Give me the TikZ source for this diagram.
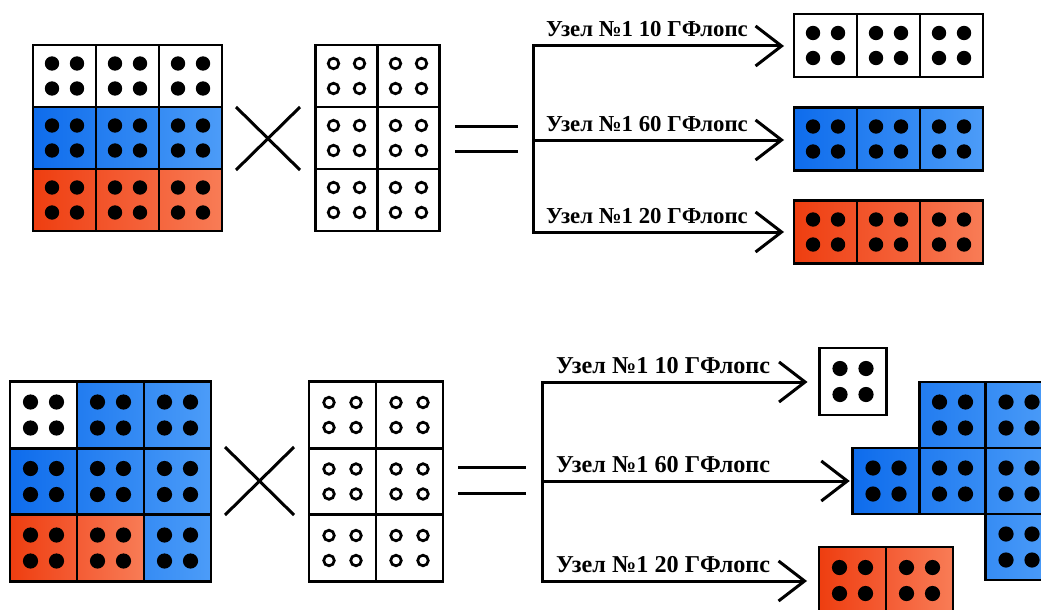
\documentclass[tikz,border=0pt]{standalone}
\usepackage{fontspec}
\setmainfont{Liberation Serif}
\usetikzlibrary{arrows.meta}
\definecolor{b0}{RGB}{14,108,236}
\definecolor{b1}{RGB}{34,124,240}
\definecolor{b2}{RGB}{54,140,244}
\definecolor{b3}{RGB}{76,156,248}
\definecolor{r0}{RGB}{238,62,16}
\definecolor{r1}{RGB}{242,82,40}
\definecolor{r15}{RGB}{244,92,52}
\definecolor{r2}{RGB}{245,102,62}
\definecolor{r3}{RGB}{248,124,86}
\tikzset{
  cellbox/.style={draw=black, line width=2.9pt, inner sep=0pt, outer sep=0pt},
  wht/.style={fill=white},
  bc1/.style={left color=b0, right color=b1},
  bc2/.style={left color=b1, right color=b2},
  bc3/.style={left color=b2, right color=b3},
  rc1/.style={left color=r0, right color=r1},
  rc2/.style={left color=r1, right color=r2},
  rc3/.style={left color=r2, right color=r3},
  rd1/.style={left color=r0, right color=r15},
  rd2/.style={left color=r15, right color=r3},
  lnk/.style={line width=3pt},
  arr/.style={line width=3pt, -{Straight Barb[length=26pt,width=40pt,line width=3pt]}},
  lbl/.style={font=\bfseries\fontsize{22.8}{26}\selectfont, inner sep=0pt, anchor=base west},
  lblb/.style={font=\bfseries\fontsize{24.2}{28}\selectfont, inner sep=0pt, anchor=base west},
}
% name, x, y, w, h, style
\newcommand\mycell[6]{\node[cellbox, minimum width=#4pt, minimum height=#5pt, #6] (#1) at (#2,#3) {};}
% filled dots: name, offset, radius
\newcommand\fdots[3]{\foreach \sx/\sy in {-1/1,1/1,-1/-1,1/-1}{\fill[black] (#1.center) ++(\sx*#2pt,\sy*#2pt) circle (#3pt);}}
% open dots: name, xoffset, yoffset
\newcommand\odots[3]{\foreach \sx/\sy in {-1/1,1/1,-1/-1,1/-1}{\draw[black, line width=2.7pt] (#1.center) ++(\sx*#2pt,\sy*#3pt) circle (5.3pt);}}
\begin{document}
\begin{tikzpicture}[x=1pt,y=-1pt]
\useasboundingbox (0,0) rectangle (1041,610);
\clip (0,0) rectangle (1041,610);
% ===== TOP =====
% left matrix A
\foreach \c/\cx/\bs/\rs in {1/64.5/bc1/rc1, 2/127.5/bc2/rc2, 3/190.5/bc3/rc3}{
  \mycell{ta1\c}{\cx}{76}{63}{62}{wht}
  \mycell{ta2\c}{\cx}{138}{63}{62}{\bs}
  \mycell{ta3\c}{\cx}{200}{63}{62}{\rs}
  \fdots{ta1\c}{12.5}{7.2}
  \fdots{ta2\c}{12.5}{7.2}
  \fdots{ta3\c}{12.5}{7.2}
}
% times sign
\draw[lnk] (236,107) -- (300,170);
\draw[lnk] (236,170) -- (300,107);
% matrix B
\foreach \c/\cx in {1/346.5, 2/408.5}{
  \foreach \r/\ry in {1/76, 2/138, 3/200}{
    \mycell{tb\r\c}{\cx}{\ry}{62}{62}{wht}
    \odots{tb\r\c}{13}{12.5}
  }
}
% equals
\draw[lnk] (455,126) -- (518,126);
\draw[lnk] (455,151) -- (518,151);
% result boxes
\foreach \c/\cx/\bs/\rs in {1/825.5/bc1/rc1, 2/888.5/bc2/rc2, 3/951.5/bc3/rc3}{
  \mycell{tr1\c}{\cx}{45.5}{63}{63}{wht}
  \mycell{tr2\c}{\cx}{139}{63}{63}{\bs}
  \mycell{tr3\c}{\cx}{232}{63}{63}{\rs}
  \fdots{tr1\c}{12.5}{7.2}
  \fdots{tr2\c}{12.5}{7.2}
  \fdots{tr3\c}{12.5}{7.2}
}
% tree
\coordinate (tj1) at (533,46);
\coordinate (tj2) at (533,140);
\coordinate (tj3) at (533,232);
\draw[lnk, line cap=rect] (tj1) -- (tj3);
\draw[arr, shorten >=10pt] (tj1) -- (tj1 -| tr11.west);
\draw[arr, shorten >=10pt] (tj2) -- (tj2 -| tr21.west);
\draw[arr, shorten >=10pt] (tj3) -- (tj3 -| tr31.west);
\node[lbl] (tl1) at (546,37) {Узел №1 10 ГФлопс};
\node[lbl] (tl2) at (546,131) {Узел №1 60 ГФлопс};
\node[lbl] (tl3) at (546,223) {Узел №1 20 ГФлопс};
% ===== BOTTOM =====
\mycell{ba11}{43.5}{415}{67}{66.5}{wht}
\mycell{ba12}{110.5}{415}{67}{66.5}{bc2}
\mycell{ba13}{177.5}{415}{67}{66.5}{bc3}
\mycell{ba21}{43.5}{481.5}{67}{66.5}{bc1}
\mycell{ba22}{110.5}{481.5}{67}{66.5}{bc2}
\mycell{ba23}{177.5}{481.5}{67}{66.5}{bc3}
\mycell{ba31}{43.5}{548}{67}{66.5}{rd1}
\mycell{ba32}{110.5}{548}{67}{66.5}{rd2}
\mycell{ba33}{177.5}{548}{67}{66.5}{bc3}
\foreach \n in {ba11,ba12,ba13,ba21,ba22,ba23,ba31,ba32,ba33}{\fdots{\n}{13}{7.6}}
% times sign
\draw[lnk] (225,447) -- (294,515);
\draw[lnk] (225,515) -- (294,447);
% matrix B
\foreach \c/\cx in {1/342.5, 2/409.5}{
  \foreach \r/\ry in {1/415, 2/481.5, 3/548}{
    \mycell{bb\r\c}{\cx}{\ry}{67}{66.5}{wht}
    \odots{bb\r\c}{13.5}{12.5}
  }
}
% equals
\draw[lnk] (458,467) -- (526,467);
\draw[lnk] (458,493) -- (526,493);
% results
\mycell{bw}{853}{381.5}{67}{67}{wht}
\mycell{bl12}{952.5}{415}{66.5}{66}{bc2}
\mycell{bl13}{1019}{415}{66.5}{66}{bc3}
\mycell{bl21}{886}{481}{66.5}{66}{bc1}
\mycell{bl22}{952.5}{481}{66.5}{66}{bc2}
\mycell{bl23}{1019}{481}{66.5}{66}{bc3}
\mycell{bl33}{1019}{547}{66.5}{66}{bc3}
\mycell{br1}{852.5}{580.5}{67}{67}{rd1}
\mycell{br2}{919.5}{580.5}{67}{67}{rd2}
\foreach \n in {bw,bl12,bl13,bl21,bl22,bl23,bl33,br1,br2}{\fdots{\n}{13}{7.6}}
% tree
\coordinate (bj1) at (542,382);
\coordinate (bj2) at (542,481);
\coordinate (bj3) at (542,581);
\draw[lnk, line cap=rect] (bj1) -- (bj3);
\draw[arr, shorten >=12pt] (bj1) -- (bj1 -| bw.west);
\draw[arr, shorten >=3pt] (bj2) -- (bj2 -| bl21.west);
\draw[arr, shorten >=12pt] (bj3) -- (bj3 -| br1.west);
\node[lblb] (bl1) at (556,373) {Узел №1 10 ГФлопс};
\node[lblb] (bl2) at (556,472) {Узел №1 60 ГФлопс};
\node[lblb] (bl3) at (556,572) {Узел №1 20 ГФлопс};
\end{tikzpicture}
\end{document}
